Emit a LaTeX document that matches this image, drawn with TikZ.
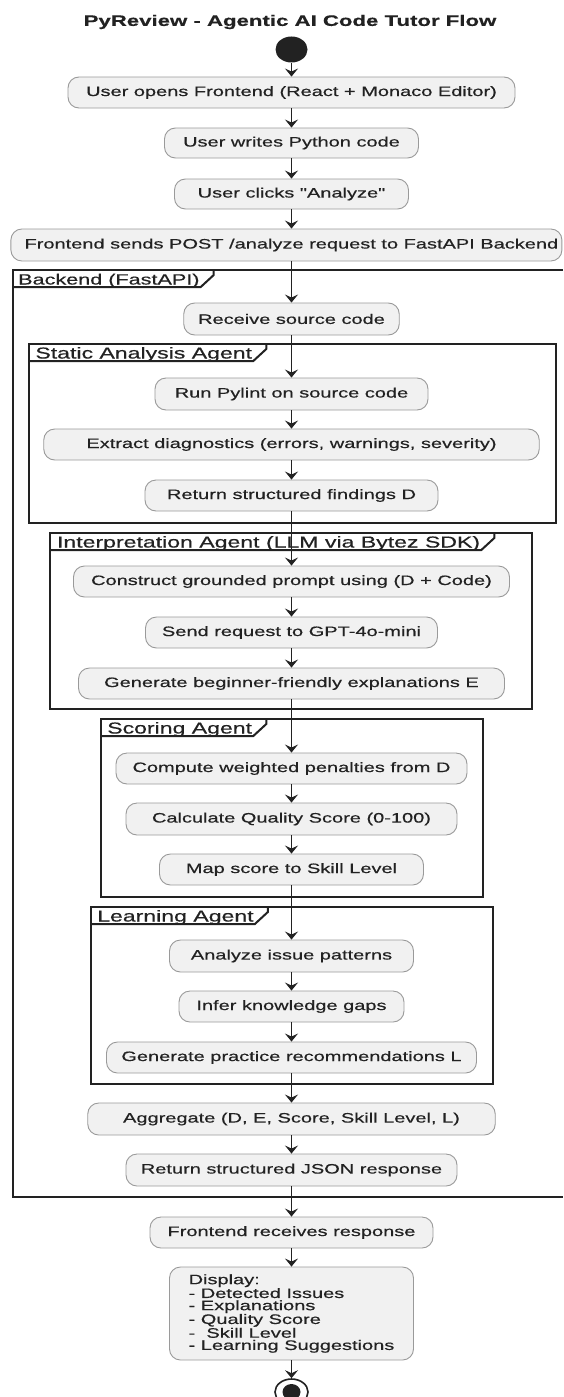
\documentclass[tikz,border=0pt]{standalone}
\usepackage{fontspec}
\setmainfont{Liberation Sans}[FakeStretch=1.46,FakeBold=0.5,Ligatures=TeXOff]
\usetikzlibrary{arrows.meta,shapes.geometric,calc}
\definecolor{boxfill}{HTML}{F1F1F1}
\definecolor{boxline}{HTML}{9A9A9A}
\definecolor{ink}{HTML}{222222}
\newcommand\agframe[6]{% #1 name, #2 left, #3 top, #4 right, #5 bottom, #6 label
  \draw[frm] (#2,#3) rectangle (#4,#5);
  \node[tablbl] (#1) at (#2+6.5,#3+14.5) {#6};
  \draw[frm] let \p1=(#1.east) in (#2,#3+17) -- (\x1+1pt,-#3pt-17pt) -- (\x1+14pt,-#3pt-5pt) -- (\x1+14pt,-#3pt);
}
\begin{document}
\begin{tikzpicture}[x=1pt,y=-1pt,
  act/.style={draw=boxline, fill=boxfill, rounded corners=11pt, line width=0.9pt, inner sep=0pt, text=ink, font=\fontsize{13.7}{16}\selectfont},
  flow/.style={draw=ink, line width=1.5pt, -{Stealth[length=8pt,width=13pt,inset=3pt]}},
  frm/.style={draw=ink, line width=2pt},
  tablbl/.style={inner sep=0pt, anchor=base west, text=ink, font=\fontsize{15.8}{18}\selectfont},
]
\path[use as bounding box, fill=white] (0,0) rectangle (563,1397);

% title and start
\node[text=ink, font=\bfseries\fontsize{15.2}{18}\selectfont] (title) at (290,22) {PyReview - Agentic AI Code Tutor Flow};
\node[ellipse, fill=ink, minimum width=32pt, minimum height=26pt, inner sep=0pt] (start) at (291.5,49.5) {};

% frames
\draw[frm] (563,270) -- (12.6,270) -- (12.6,1197) -- (563,1197);
\node[tablbl, font=\fontsize{14.8}{18}\selectfont] (lbB) at (18,284.5) {Backend (FastAPI)};
\draw[frm] let \p1=(lbB.east) in (12.6,287) -- (\x1+1pt,-287pt) -- (\x1+14pt,-275pt) -- (\x1+14pt,-270pt);
\agframe{lbS}{28.7}{344}{555.8}{523}{Static Analysis Agent}
\agframe{lbI}{50.3}{533}{532.1}{709}{Interpretation Agent (LLM via Bytez SDK)}
\agframe{lbC}{100.5}{719}{482.9}{897}{Scoring Agent}
\agframe{lbL}{90.5}{907}{492.6}{1084}{Learning Agent}

% activities
\node[act, minimum width=447pt, minimum height=31pt] (a1) at (291.5,92.5) {User opens Frontend (React + Monaco Editor)};
\node[act, minimum width=254pt, minimum height=30pt] (a2) at (291.5,143) {User writes Python code};
\node[act, minimum width=234pt, minimum height=30pt] (a3) at (291.5,194) {User clicks "Analyze"};
\node[act, minimum width=551pt, minimum height=32pt] (a4) at (286.4,245) {\hspace*{10pt}Frontend sends POST /analyze request to FastAPI Backend};
\node[act, minimum width=215.5pt, minimum height=32pt] (recv) at (291.5,319) {Receive source code};
\node[act, minimum width=273pt, minimum height=32pt] (run) at (291.5,394) {Run Pylint on source code};
\node[act, minimum width=495.5pt, minimum height=31pt] (ext) at (291.5,444.5) {Extract diagnostics (errors, warnings, severity)};
\node[act, minimum width=293pt, minimum height=31pt] (retD) at (291.5,495.5) {Return structured findings D};
\node[act, minimum width=436pt, minimum height=31pt] (cons) at (291.5,581.5) {Construct grounded prompt using (D + Code)};
\node[act, minimum width=292pt, minimum height=31pt] (send) at (291.5,632.5) {Send request to GPT-4o-mini};
\node[act, minimum width=426pt, minimum height=31pt] (genE) at (291.5,683.5) {Generate beginner-friendly explanations E};
\node[act, minimum width=351pt, minimum height=31pt] (comp) at (291.5,768.5) {Compute weighted penalties from D};
\node[act, minimum width=331pt, minimum height=32pt] (calc) at (291.5,819) {Calculate Quality Score (0-100)};
\node[act, minimum width=264pt, minimum height=31pt] (map) at (291.5,869.5) {Map score to Skill Level};
\node[act, minimum width=244pt, minimum height=32pt] (anal) at (291.5,956) {Analyze issue patterns};
\node[act, minimum width=225pt, minimum height=31pt] (infer) at (291.5,1006.5) {Infer knowledge gaps};
\node[act, minimum width=370pt, minimum height=31pt] (genL) at (291.5,1057.5) {Generate practice recommendations L};
\node[act, minimum width=407.5pt, minimum height=32pt] (agg) at (291.5,1119) {Aggregate (D, E, Score, Skill Level, L)};
\node[act, minimum width=331pt, minimum height=32pt] (json) at (291.5,1170) {Return structured JSON response};
\node[act, minimum width=283pt, minimum height=31pt] (front) at (291.5,1232.5) {Frontend receives response};
\node[act, minimum width=244pt, minimum height=93pt, align=left, font=\fontsize{13.7}{12.2}\selectfont] (disp) at (291.5,1313.5) {Display:\\- Detected Issues\\- Explanations\\- Quality Score\\-\ \ Skill Level\\- Learning Suggestions};

% end
\begin{scope}
\clip (0,0) rectangle (563,1397);
\node[ellipse, draw=ink, line width=1.6pt, fill=white, minimum width=33pt, minimum height=26pt, inner sep=0pt] (fin) at (291.5,1392) {};
\node[ellipse, fill=ink, minimum width=18pt, minimum height=16pt, inner sep=0pt] (finin) at (291.5,1392) {};
\end{scope}

% connectors
\draw[flow] (start.south) -- (a1.north);
\draw[flow] (a1.south) -- (a2.north);
\draw[flow] (a2.south) -- (a3.north);
\draw[flow] (a3.south) -- (a3.south |- a4.north);
\draw[flow] (recv.north |- a4.south) -- (recv.north);
\draw[flow] (recv.south) -- (run.north);
\draw[flow] (run.south) -- (ext.north);
\draw[flow] (ext.south) -- (retD.north);
\draw[flow] (retD.south) -- (cons.north);
\draw[flow] (cons.south) -- (send.north);
\draw[flow] (send.south) -- (genE.north);
\draw[flow] (genE.south) -- (comp.north);
\draw[flow] (comp.south) -- (calc.north);
\draw[flow] (calc.south) -- (map.north);
\draw[flow] (map.south) -- (anal.north);
\draw[flow] (anal.south) -- (infer.north);
\draw[flow] (infer.south) -- (genL.north);
\draw[flow] (genL.south) -- (agg.north);
\draw[flow] (agg.south) -- (json.north);
\draw[flow] (json.south) -- (front.north);
\draw[flow] (front.south) -- (disp.north);
\draw[flow] (disp.south) -- (fin.north);
\end{tikzpicture}
\end{document}
